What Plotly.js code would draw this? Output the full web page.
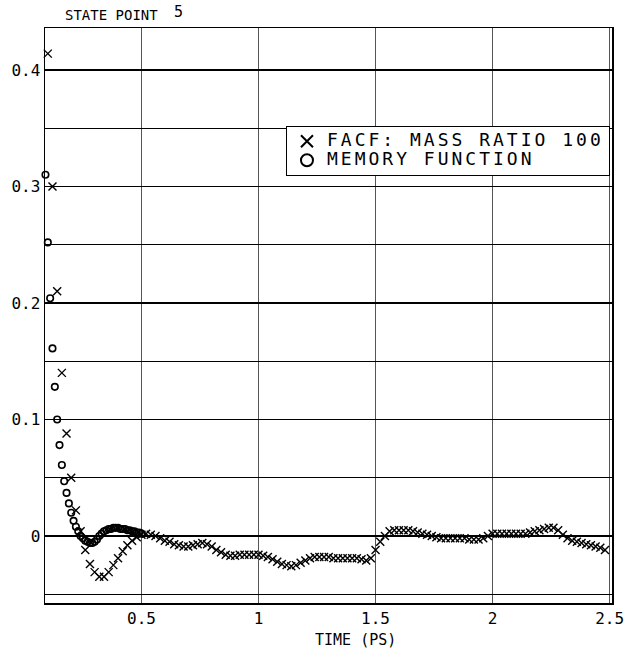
<!DOCTYPE html>
<html>
<head>
<meta charset="utf-8">
<script src="https://cdn.plot.ly/plotly-3.0.1.min.js"></script>
<style>
html,body{margin:0;padding:0;background:#fff;}
#chart{width:628px;height:659px;}
.legendtext{font-size:18px !important;letter-spacing:3.0px;}
</style>
</head>
<body>
<div id="chart"></div>
<script>
// FACF, mass ratio 100 (x markers)
var facfTime = [0.10,0.12,0.14,0.16,0.18,0.20,0.22,0.24,0.26,0.28,
  0.30,0.32,0.34,0.36,0.38,0.40,0.42,0.44,0.46,0.48,
  0.50,0.52,0.54,0.56,0.58,0.60,0.62,0.64,0.66,0.68,
  0.70,0.72,0.74,0.76,0.78,0.80,0.82,0.84,0.86,0.88,
  0.90,0.92,0.94,0.96,0.98,1.00,1.02,1.04,1.06,1.08,
  1.10,1.12,1.14,1.16,1.18,1.20,1.22,1.24,1.26,1.28,
  1.30,1.32,1.34,1.36,1.38,1.40,1.42,1.44,1.46,1.48,
  1.50,1.52,1.54,1.56,1.58,1.60,1.62,1.64,1.66,1.68,
  1.70,1.72,1.74,1.76,1.78,1.80,1.82,1.84,1.86,1.88,
  1.90,1.92,1.94,1.96,1.98,2.00,2.02,2.04,2.06,2.08,
  2.10,2.12,2.14,2.16,2.18,2.20,2.22,2.24,2.26,2.28,
  2.30,2.32,2.34,2.36,2.38,2.40,2.42,2.44,2.46,2.48];
var facfValue = [0.414,0.300,0.210,0.140,0.088,0.050,0.022,0.004,-0.012,-0.024,
  -0.031,-0.035,-0.035,-0.031,-0.025,-0.019,-0.013,-0.008,-0.004,-0.001,
  0.001,0.002,0.001,0.000,-0.002,-0.004,-0.005,-0.007,-0.008,-0.009,
  -0.009,-0.008,-0.007,-0.006,-0.007,-0.009,-0.012,-0.014,-0.016,-0.017,
  -0.017,-0.016,-0.016,-0.016,-0.016,-0.016,-0.017,-0.018,-0.020,-0.022,
  -0.024,-0.025,-0.026,-0.025,-0.023,-0.021,-0.019,-0.018,-0.018,-0.018,
  -0.018,-0.019,-0.019,-0.019,-0.019,-0.019,-0.019,-0.020,-0.021,-0.019,
  -0.012,-0.005,0.000,0.004,0.005,0.005,0.005,0.005,0.004,0.003,
  0.002,0.001,0.000,-0.001,-0.002,-0.002,-0.002,-0.002,-0.002,-0.002,
  -0.003,-0.003,-0.003,-0.002,0.000,0.002,0.002,0.002,0.002,0.002,
  0.002,0.002,0.002,0.003,0.004,0.005,0.006,0.007,0.007,0.005,
  0.001,-0.002,-0.004,-0.005,-0.006,-0.007,-0.008,-0.009,-0.010,-0.012];

// Memory function (open circles)
var memTime = [0.09,0.10,0.11,0.12,0.13,0.14,0.15,0.16,0.17,0.18,
  0.19,0.20,0.21,0.22,0.23,0.24,0.25,0.26,0.27,0.28,
  0.29,0.30,0.31,0.32,0.33,0.34,0.35,0.36,0.37,0.38,
  0.39,0.40,0.41,0.42,0.43,0.44,0.45,0.46,0.47,0.48,
  0.49,0.50];
var memValue = [0.310,0.252,0.204,0.161,0.128,0.100,0.078,0.061,0.047,0.037,
  0.028,0.020,0.013,0.008,0.004,0.000,-0.002,-0.004,-0.005,-0.006,
  -0.006,-0.005,-0.003,0.000,0.002,0.004,0.005,0.006,0.006,0.007,
  0.007,0.007,0.006,0.006,0.006,0.005,0.005,0.004,0.004,0.003,
  0.003,0.002];

var xTickVals = [0.5,1,1.5,2,2.5];
var xTickText = ["0.5","1","1.5","2","2.5"];
var yTickVals = [-0.05,0,0.05,0.1,0.15,0.2,0.25,0.3,0.35,0.4];
var yTickText = ["","0","","0.1","","0.2","","0.3","","0.4"];

var seriesNames = ["FACF: MASS RATIO 100","MEMORY FUNCTION"];

var mono = "DejaVu Sans Mono, Liberation Mono, monospace";

var traces = [
  {x: facfTime, y: facfValue, name: seriesNames[0], type: "scatter", mode: "markers",
   marker: {symbol: "x-thin-open", size: 8, color: "#000", line: {color: "#000", width: 1.4}},
   cliponaxis: false},
  {x: memTime, y: memValue, name: seriesNames[1], type: "scatter", mode: "markers",
   marker: {symbol: "circle-open", size: 6.5, color: "#000", line: {color: "#000", width: 1.6}},
   cliponaxis: false}
];

var layout = {
  width: 628, height: 659,
  margin: {l: 45, r: 16, t: 28, b: 56},
  paper_bgcolor: "#fff", plot_bgcolor: "#fff",
  font: {family: mono, color: "#000", size: 15},
  showlegend: true,
  legend: {x: 0.425, y: 0.830, xanchor: "left", yanchor: "top",
    bgcolor: "#fff", bordercolor: "#000", borderwidth: 1,
    font: {family: mono, size: 12, color: "#000"},
    itemwidth: 30, tracegroupgap: 0, itemsizing: "constant"},
  xaxis: {range: [0.088, 2.51], tickmode: "array", tickvals: xTickVals, ticktext: xTickText,
    showgrid: true, gridcolor: "#555", gridwidth: 1, zeroline: false,
    showline: true, mirror: true, linecolor: "#000", linewidth: 1.5,
    ticks: "", tickfont: {family: mono, size: 16, color: "#000"}},
  yaxis: {range: [-0.0575, 0.436], tickmode: "array", tickvals: yTickVals, ticktext: yTickText,
    showgrid: true, gridcolor: "#000", gridwidth: 1.2, zeroline: false,
    showline: true, mirror: true, linecolor: "#000", linewidth: 1.5,
    ticks: "", tickfont: {family: mono, size: 16, color: "#000"}},
  annotations: [
    {text: "STATE POINT", xref: "paper", yref: "paper", x: 0.032, y: 1.0226,
     xanchor: "left", yanchor: "middle", showarrow: false, font: {family: mono, size: 14, color: "#000"}},
    {text: "5", xref: "paper", yref: "paper", x: 0.224, y: 1.027,
     xanchor: "left", yanchor: "middle", showarrow: false, font: {family: mono, size: 15, color: "#000"}},
    {text: "TIME (PS)", xref: "paper", yref: "paper", x: 0.548, y: -0.064,
     xanchor: "center", yanchor: "middle", showarrow: false, font: {family: mono, size: 15, color: "#000"}}
  ]
};

Plotly.newPlot("chart", traces, layout, {displayModeBar: false, staticPlot: true});
</script>
</body>
</html>
